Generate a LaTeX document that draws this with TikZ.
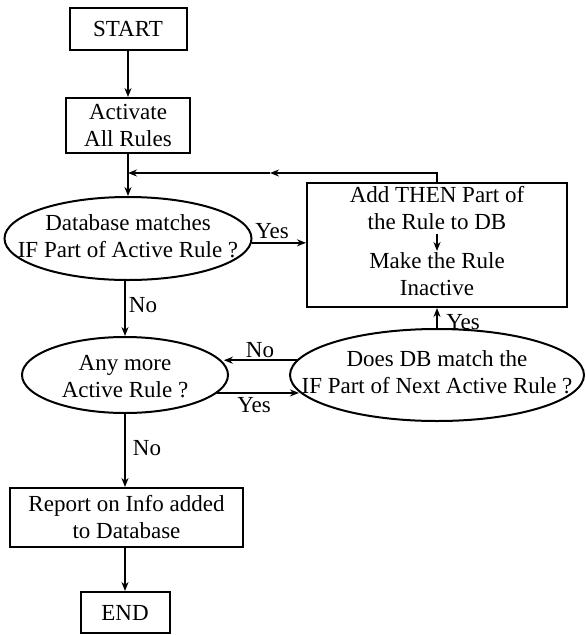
\documentclass[tikz,border=0pt]{standalone}
\usepackage{fontspec}
\setmainfont{Liberation Serif}
\usetikzlibrary{shapes.geometric,arrows.meta}
\begin{document}
\begin{tikzpicture}[x=1pt,y=-1pt,
  every node/.style={font=\fontsize{23}{27}\selectfont},
  box/.style={draw,line width=2pt,rectangle,inner sep=0pt,align=center},
  cond/.style={draw,line width=2pt,ellipse,inner sep=0pt},
  txt/.style={inner sep=0pt,align=center},
  flow/.style={line width=2pt,-{Stealth[length=9pt,width=7pt]}},
  wire/.style={line width=2pt},
  lbl/.style={inner sep=0pt}]
\useasboundingbox (0,0) rectangle (586,635);

% main column of steps
\node[box,minimum width=117pt,minimum height=42pt] (start) at (128,29) {START};
\node[box,minimum width=124pt,minimum height=55pt] (activate) at (128,125.5) {Activate\\All Rules};
\coordinate (join) at (128,173);

\node[cond,minimum width=247pt,minimum height=83pt] (dbm) at (128,238.5) {};
\node[txt] (dbmtxt) at (128,236.5) {Database matches\\IF Part of Active Rule ?};

\node[box,minimum width=260pt,minimum height=124pt] (add) at (437,245) {};
\node[txt] (addtop) at (437,208.5) {Add THEN Part of\\the Rule to DB};
\node[txt] (addbot) at (437,274) {Make the Rule\\Inactive};
\coordinate (inA) at (437,234);
\coordinate (inB) at (437,251);

\node[cond,minimum width=206pt,minimum height=76pt] (more) at (125,375) {};
\node[txt] (moretxt) at (125,376.5) {Any more\\Active Rule ?};

\node[cond,minimum width=294pt,minimum height=92pt] (next) at (437,375) {};
\node[txt] (nexttxt) at (437,372.5) {Does DB match the\\IF Part of Next Active Rule ?};

\node[box,minimum width=233pt,minimum height=59pt] (report) at (126.5,517.5) {Report on Info added\\to Database};
\node[box,minimum width=89pt,minimum height=41pt] (end) at (125,612.5) {END};

% connectors
\draw[flow] (start) -- (activate);
\draw[wire] (activate) -- (join);
\draw[flow] (join) -- (dbm);

\coordinate (loopmid) at (270,173);
\draw[flow] (add.north) |- (loopmid);
\draw[flow] (loopmid) -- (join);

\draw[flow] (dbm.-2.1) -- (dbm.-2.1 -| add.west);
\draw[flow] (inA) -- (inB);

\draw[flow] (more.north |- dbm.south) -- (more.north);
\draw[flow] (next.174.7) -- (next.174.7 -| more.7.65);
\draw[flow] (more.-11.2) -- (more.-11.2 -| next.187.6);
\draw[flow] (next.north) -- (next.north |- add.south);

\draw[flow] (more.south) -- (more.south |- report.north);
\draw[flow] (report.south -| end.north) -- (end.north);

% branch labels
\node[lbl] (ydb) at (272,231) {Yes};
\node[lbl] (ndb) at (143,305) {No};
\node[lbl] (nnx) at (260,350) {No};
\node[lbl] (ymo) at (254,405) {Yes};
\node[lbl] (ynx) at (463,322) {Yes};
\node[lbl] (nmo) at (147,448) {No};
\end{tikzpicture}
\end{document}
